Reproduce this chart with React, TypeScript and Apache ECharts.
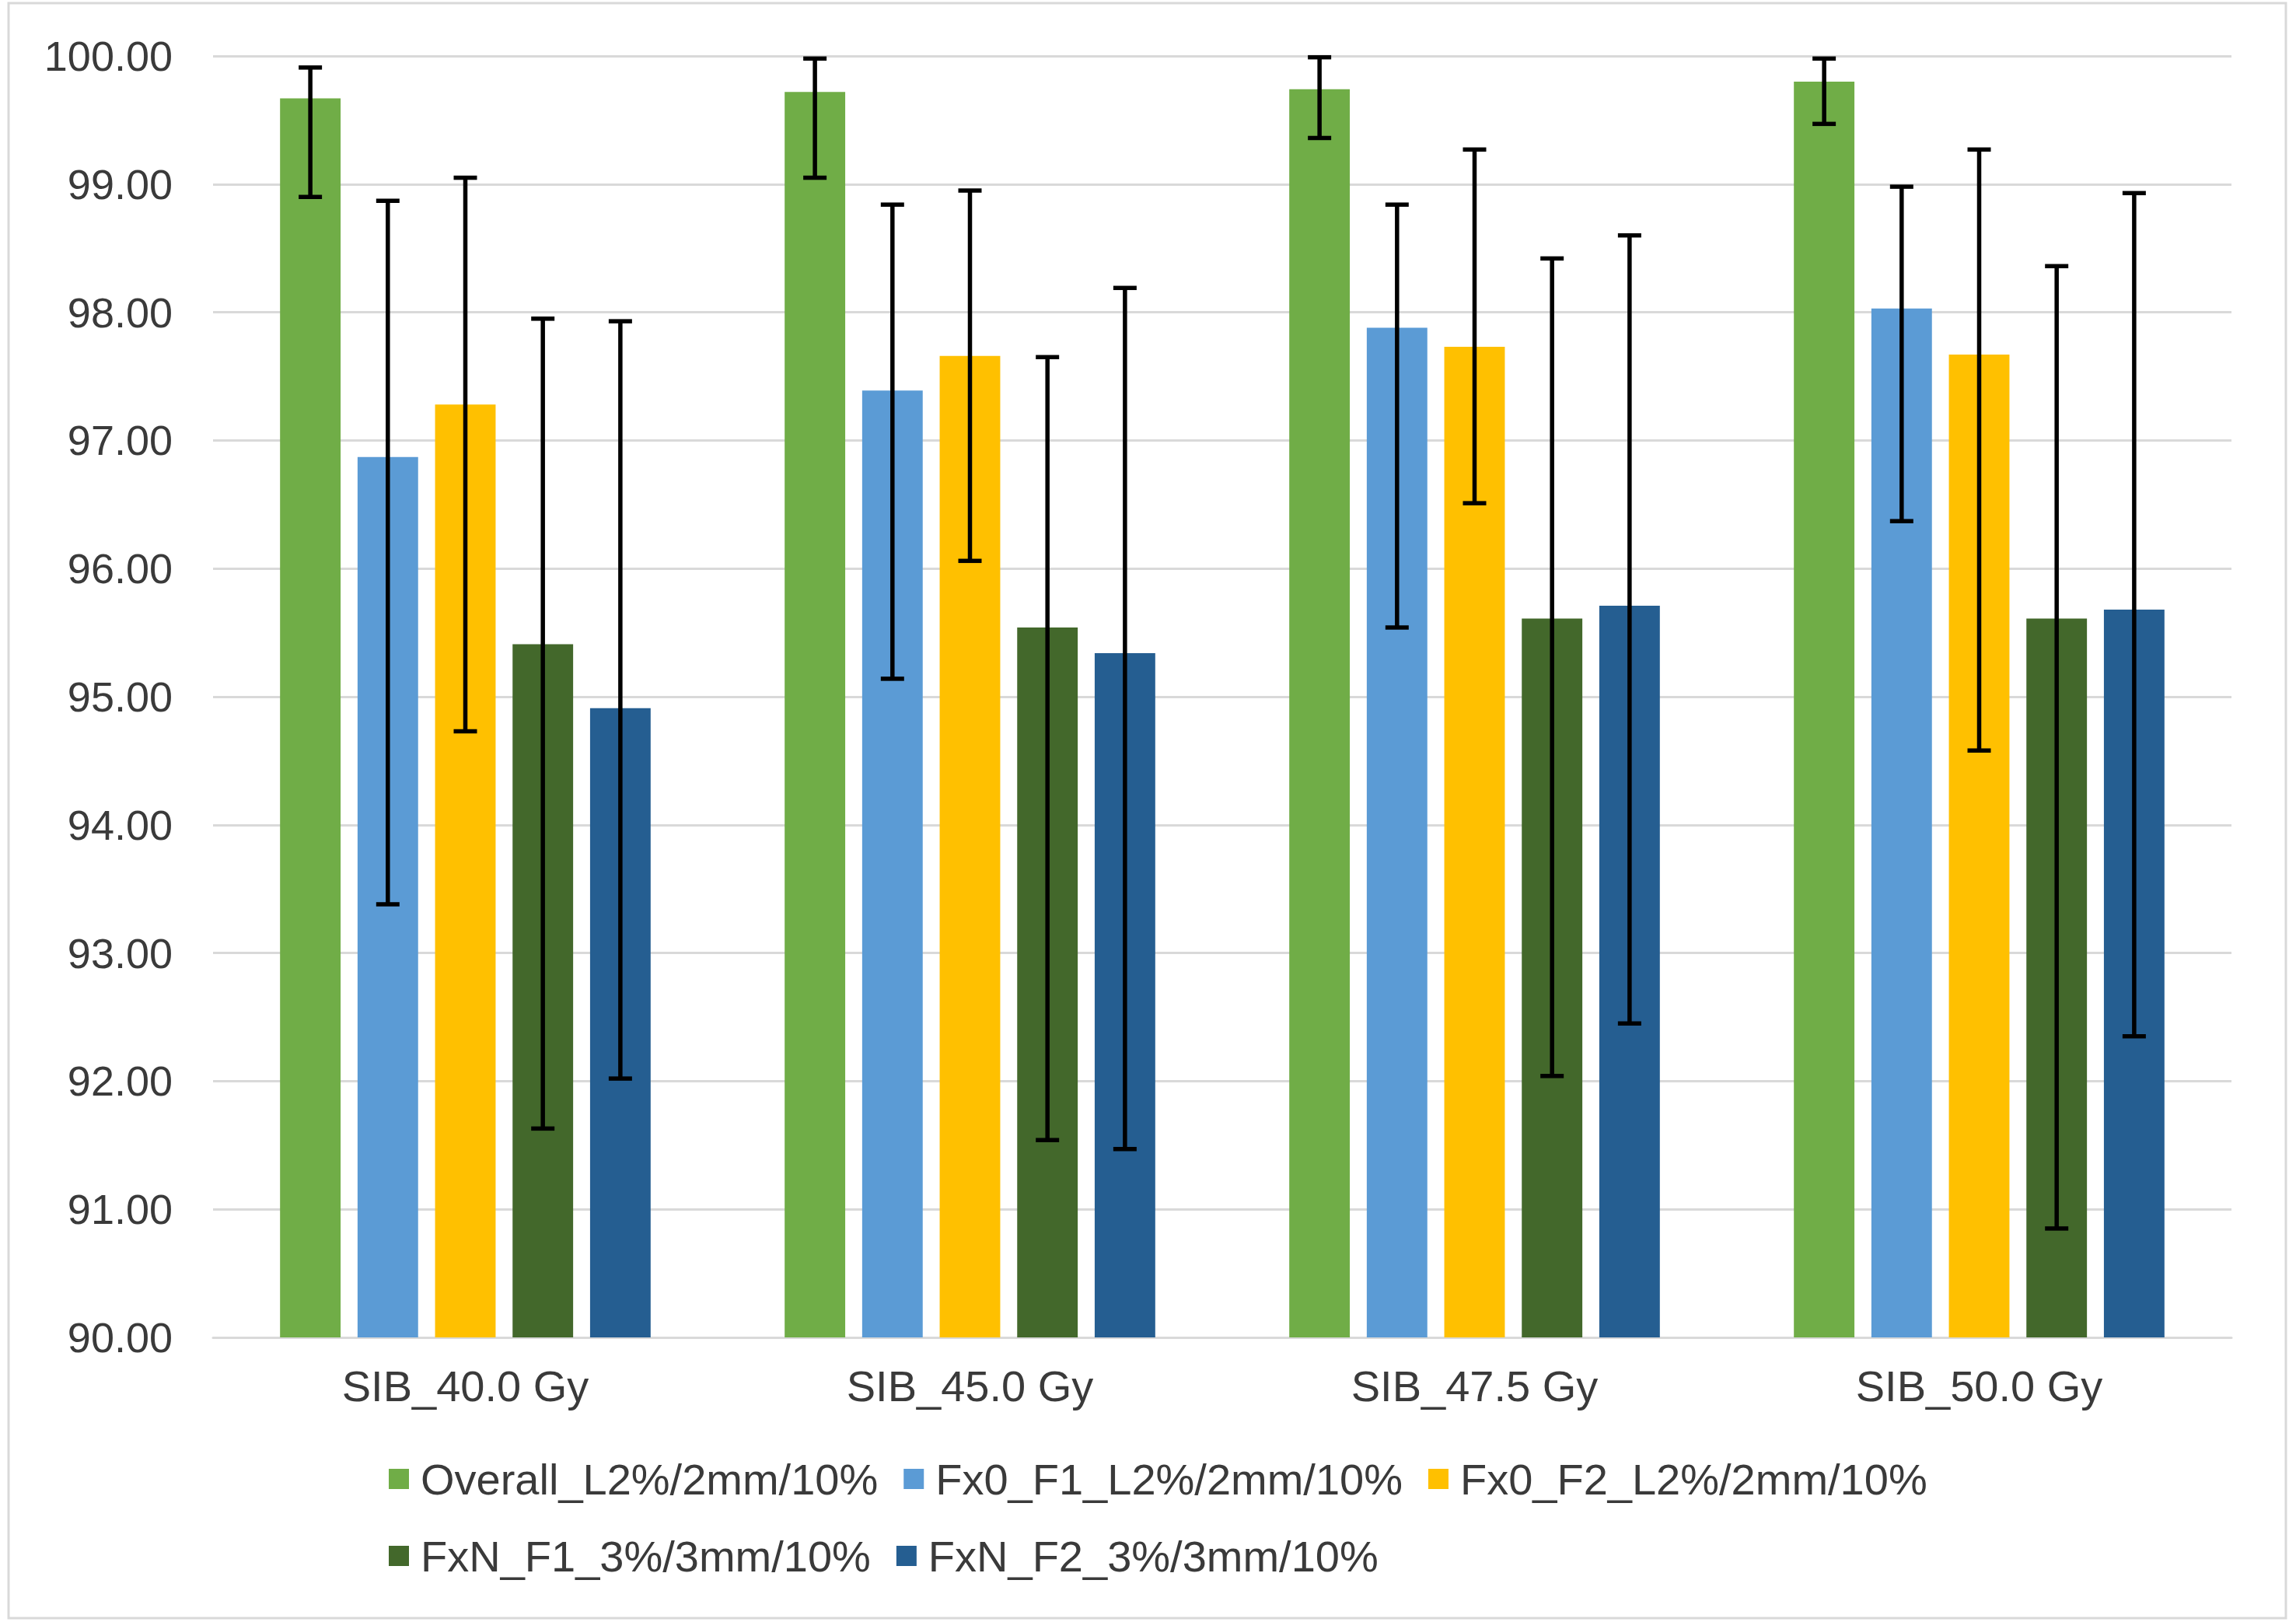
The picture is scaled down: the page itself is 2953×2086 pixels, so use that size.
import React, { useEffect, useRef } from "react";
import * as echarts from "echarts";

const categories = ["SIB_40.0 Gy", "SIB_45.0 Gy", "SIB_47.5 Gy", "SIB_50.0 Gy"];
const seriesNames = [
  "Overall_L2%/2mm/10%",
  "Fx0_F1_L2%/2mm/10%",
  "Fx0_F2_L2%/2mm/10%",
  "FxN_F1_3%/3mm/10%",
  "FxN_F2_3%/3mm/10%",
];
const seriesColors = ["#70AD47", "#5B9BD5", "#FFC000", "#43682B", "#255E91"];

const overall = [99.67, 99.72, 99.74, 99.8];
const overallLow = [98.9, 99.05, 99.36, 99.47];
const overallHigh = [99.91, 99.98, 99.99, 99.98];

const fx0F1 = [96.87, 97.39, 97.88, 98.03];
const fx0F1Low = [93.38, 95.14, 95.54, 96.37];
const fx0F1High = [98.87, 98.84, 98.84, 98.98];

const fx0F2 = [97.28, 97.66, 97.73, 97.67];
const fx0F2Low = [94.73, 96.06, 96.51, 94.58];
const fx0F2High = [99.05, 98.95, 99.27, 99.27];

const fxNF1 = [95.41, 95.54, 95.61, 95.61];
const fxNF1Low = [91.63, 91.54, 92.04, 90.85];
const fxNF1High = [97.95, 97.65, 98.42, 98.36];

const fxNF2 = [94.91, 95.34, 95.71, 95.68];
const fxNF2Low = [92.02, 91.47, 92.45, 92.35];
const fxNF2High = [97.93, 98.19, 98.6, 98.93];

const yTicks = [90, 91, 92, 93, 94, 95, 96, 97, 98, 99, 100];

const values = [overall, fx0F1, fx0F2, fxNF1, fxNF2];
const lows = [overallLow, fx0F1Low, fx0F2Low, fxNF1Low, fxNF2Low];
const highs = [overallHigh, fx0F1High, fx0F2High, fxNF1High, fxNF2High];

const BAR_PCT = 0.12;
const GAP_RATIO = 0.28;
const FONT = "'Liberation Sans', Arial, sans-serif";
const TEXT_COLOR = "#3a3a3a";
const GRID_COLOR = "#d9d9d9";

export default function App() {
  const ref = useRef<HTMLDivElement>(null);

  useEffect(() => {
    document.body.style.margin = "0";
    if (!ref.current) return;
    const chart = echarts.init(ref.current, undefined, { renderer: "svg" });

    const errData: number[][] = [];
    values.forEach((_, si) => {
      categories.forEach((_, ci) => {
        errData.push([ci, si, lows[si][ci], highs[si][ci]]);
      });
    });

    const barSeries = seriesNames.map((name, si) => ({
      name,
      type: "bar",
      data: values[si],
      barWidth: BAR_PCT * 100 + "%",
      barGap: GAP_RATIO * 100 + "%",
      itemStyle: { color: seriesColors[si] },
      z: 2,
    }));

    const errorSeries = {
      type: "custom",
      name: "err",
      z: 10,
      clip: false,
      encode: { x: 0, y: [2, 3] },
      data: errData,
      renderItem: (params: any, api: any) => {
        const ci = api.value(0);
        const si = api.value(1);
        const lowPt = api.coord([ci, api.value(2)]);
        const highPt = api.coord([ci, api.value(3)]);
        const band = api.size([1, 0])[0];
        const bw = band * BAR_PCT;
        const step = bw * (1 + GAP_RATIO);
        const x = lowPt[0] + (si - 2) * step;
        const cap = 15;
        const style = { stroke: "#000", lineWidth: 5.5, fill: null };
        return {
          type: "group",
          children: [
            { type: "line", shape: { x1: x, y1: highPt[1], x2: x, y2: lowPt[1] }, style },
            { type: "line", shape: { x1: x - cap, y1: highPt[1], x2: x + cap, y2: highPt[1] }, style },
            { type: "line", shape: { x1: x - cap, y1: lowPt[1], x2: x + cap, y2: lowPt[1] }, style },
          ],
        };
      },
    };

    chart.setOption({
      animation: false,
      backgroundColor: "#ffffff",
      textStyle: { fontFamily: FONT },
      graphic: [
        {
          type: "rect",
          shape: { x: 11, y: 4, width: 2929, height: 2077 },
          style: { fill: "rgba(0,0,0,0)", stroke: GRID_COLOR, lineWidth: 3 },
          silent: true,
          z: -1,
        },
      ],
      grid: { left: 274, right: 83, top: 72, bottom: 366, containLabel: false },
      legend: {
        data: seriesNames,
        left: 500,
        top: 1869,
        width: 2050,
        padding: 0,
        itemGap: 33,
        itemWidth: 26,
        itemHeight: 26,
        icon: "rect",
        textStyle: {
          fontSize: 56,
          color: TEXT_COLOR,
          fontFamily: FONT,
          lineHeight: 66,
          padding: [0, 0, 0, 10],
        },
      },
      xAxis: {
        type: "category",
        data: categories,
        axisTick: { show: false },
        axisLine: { show: true, lineStyle: { color: GRID_COLOR, width: 3 } },
        axisLabel: { fontSize: 56, color: TEXT_COLOR, fontFamily: FONT, margin: 34 },
      },
      yAxis: {
        type: "value",
        min: yTicks[0],
        max: yTicks[yTicks.length - 1],
        interval: 1,
        axisLine: { show: false },
        axisTick: { show: false },
        splitLine: { lineStyle: { color: GRID_COLOR, width: 3 } },
        axisLabel: {
          fontSize: 54,
          color: TEXT_COLOR,
          fontFamily: FONT,
          margin: 52,
          formatter: (v: number) => v.toFixed(2),
        },
      },
      series: [...barSeries, errorSeries],
    });

    return () => chart.dispose();
  }, []);

  return <div ref={ref} style={{ width: 2953, height: 2086 }} />;
}
